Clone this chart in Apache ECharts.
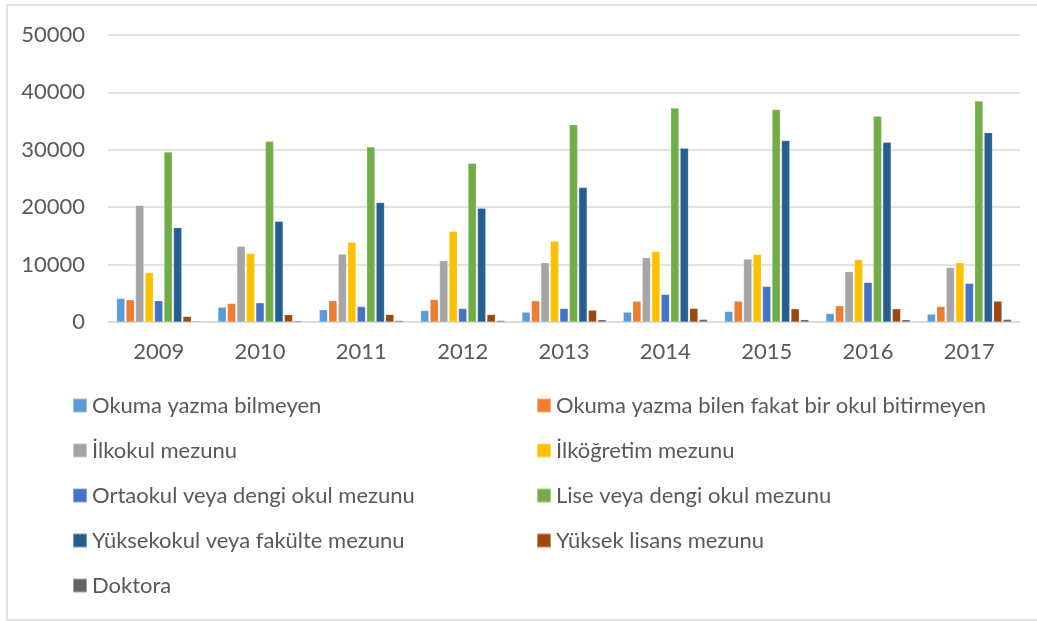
<!DOCTYPE html>
<html>
<head>
<meta charset="utf-8">
<script src="https://cdn.jsdelivr.net/npm/echarts@6/dist/echarts.min.js"></script>
<style>
  html, body { margin: 0; padding: 0; background: #fff; }
  #chart { width: 1037px; height: 621px; }
</style>
</head>
<body>
<div id="chart"></div>
<script>
const years = ["2009", "2010", "2011", "2012", "2013", "2014", "2015", "2016", "2017"];

const seriesNames = [
  "Okuma yazma bilmeyen",
  "Okuma yazma bilen fakat bir okul bitirmeyen",
  "İlkokul mezunu",
  "İlköğretim mezunu",
  "Ortaokul veya dengi okul mezunu",
  "Lise veya dengi okul mezunu",
  "Yüksekokul veya fakülte mezunu",
  "Yüksek lisans mezunu",
  "Doktora",
];

const okumaYazmaBilmeyen = [4100, 2580, 2130, 2000, 1710, 1710, 1830, 1480, 1360];
const okulBitirmeyen = [3870, 3230, 3700, 3920, 3700, 3630, 3630, 2830, 2700];
const ilkokul = [20300, 13180, 11830, 10680, 10330, 11200, 10960, 8760, 9510];
const ilkogretim = [8590, 11950, 13870, 15790, 14080, 12300, 11780, 10850, 10330];
const ortaokul = [3700, 3350, 2700, 2350, 2350, 4800, 6200, 6890, 6720];
const lise = [29630, 31500, 30500, 27660, 34350, 37300, 37030, 35860, 38480];
const yuksekokul = [16440, 17540, 20800, 19800, 23420, 30280, 31620, 31330, 32990];
const yuksekLisans = [960, 1260, 1300, 1300, 2060, 2360, 2300, 2300, 3630];
const doktora = [150, 200, 250, 250, 400, 450, 400, 400, 450];

const seriesValues = [
  okumaYazmaBilmeyen, okulBitirmeyen, ilkokul, ilkogretim, ortaokul,
  lise, yuksekokul, yuksekLisans, doktora,
];

const palette = ["#5B9BD5", "#ED7D31", "#A5A5A5", "#FFC000", "#4472C4",
                 "#70AD47", "#255E91", "#9E480E", "#636363"];

const font = "Lato, 'Open Sans', sans-serif";
const textColor = "#595959";

const chart = echarts.init(document.getElementById("chart"));

const legendStyle = {
  orient: "vertical",
  icon: "rect",
  padding: 0,
  itemWidth: 14,
  itemHeight: 14,
  itemGap: 22,
  textStyle: { color: textColor, fontSize: 22, fontFamily: font, lineHeight: 23 },
};

chart.setOption({
  animation: false,
  color: palette,
  graphic: [
    {
      type: "rect",
      shape: { x: 7, y: 5, width: 1040, height: 615 },
      style: { fill: null, stroke: "#d9d9d9", lineWidth: 1.5 },
      silent: true,
    },
  ],
  legend: [
    { ...legendStyle, left: 72, top: 394, data: seriesNames.filter((_, i) => i % 2 === 0) },
    { ...legendStyle, left: 536, top: 394, data: seriesNames.filter((_, i) => i % 2 === 1) },
  ],
  grid: { left: 108, right: 17, top: 35, bottom: 299 },
  xAxis: {
    type: "category",
    data: years,
    axisTick: { show: false },
    axisLine: { lineStyle: { color: "#d9d9d9", width: 1.5 } },
    axisLabel: { color: textColor, fontSize: 22, fontFamily: font, margin: 19 },
  },
  yAxis: {
    type: "value",
    min: 0,
    max: 50000,
    interval: 10000,
    axisLine: { show: false },
    axisTick: { show: false },
    splitLine: { lineStyle: { color: "#d9d9d9", width: 1.5 } },
    axisLabel: {
      color: textColor, fontSize: 22, fontFamily: font, margin: 23,
      formatter: (v) => String(v),
    },
  },
  series: seriesNames.map((name, i) => ({
    name,
    type: "bar",
    data: seriesValues[i],
    barGap: "15%",
    barCategoryGap: "17%",
    itemStyle: { borderColor: "rgba(255,255,255,0.4)", borderWidth: 0.5 },
  })),
});
</script>
</body>
</html>
